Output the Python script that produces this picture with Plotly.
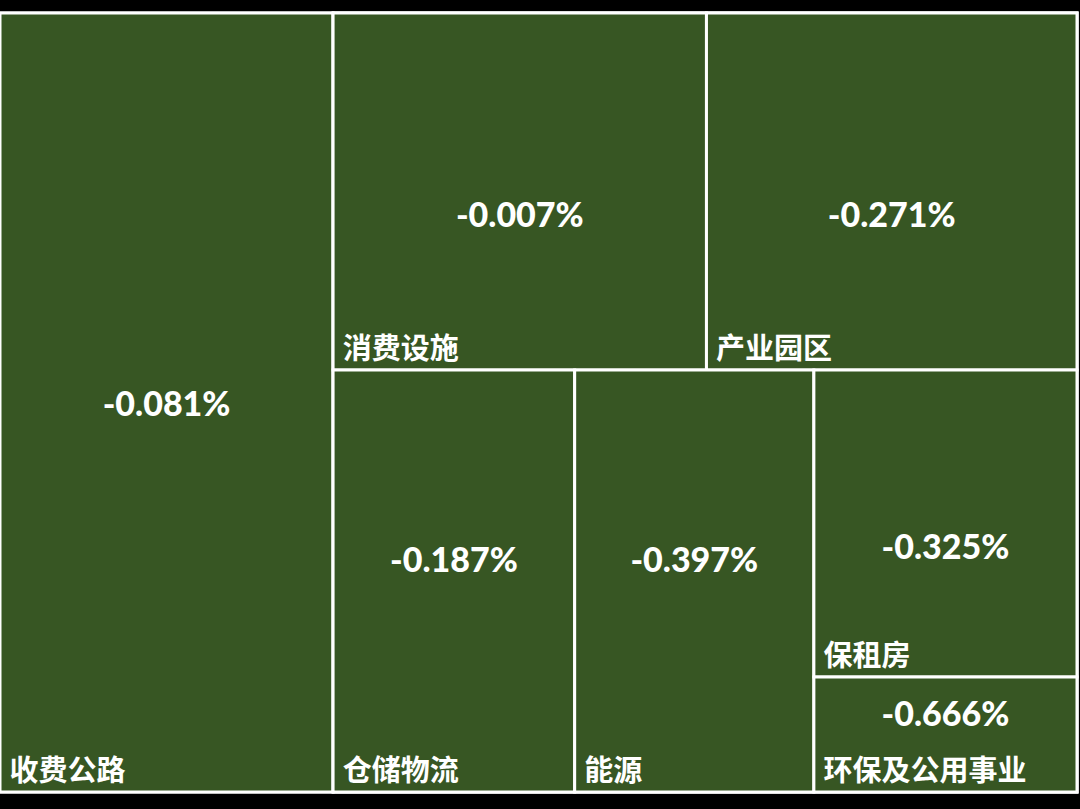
import plotly.graph_objects as go

# Data
categories = ["收费公路", "消费设施", "产业园区", "仓储物流", "能源", "保租房", "环保及公用事业"]
sizes = [257, 132, 131, 101, 100, 80, 30]          # tile weights read from the areas
changes = [-0.081, -0.007, -0.271, -0.187, -0.397, -0.325, -0.666]  # percent change

ROOT = "全部"
GROUP = "其他板块"

# Hierarchy: first sector alone on the left, the rest grouped (keeps the reference layout)
labels = [ROOT, categories[0], GROUP] + categories[1:]
parents = ["", ROOT, ROOT] + [GROUP] * (len(categories) - 1)
group_total = sum(sizes[1:])
values = [sum(sizes), sizes[0], group_total] + sizes[1:]
cdata = [0, changes[0], 0] + changes[1:]

GREEN = "#375623"

# label templates (name at bottom-left, value near the middle)
NAME = " %{label}"
V = "%{customdata:.3f}%"
V_LOW = " <br>" + V       # sits a little below the middle
V_HIGH = V + "<br> "      # sits a little above the middle
name_tmpl = ["", NAME, ""] + [NAME] * (len(categories) - 1)
val_tmpl = ["", V, "", V_LOW, V_LOW, V_HIGH, V_HIGH, V_LOW, V_HIGH]

common = dict(
    labels=labels,
    parents=parents,
    values=values,
    customdata=cdata,
    branchvalues="total",
    sort=False,
    tiling=dict(packing="squarify", squarifyratio=1, pad=0),
    pathbar=dict(visible=False),
    domain=dict(x=[0, 1], y=[0, 1]),
    hoverinfo="skip",
)

trace_names = go.Treemap(
    **common,
    texttemplate=name_tmpl,
    textposition="bottom left",
    marker=dict(colors=[GREEN] * len(labels),
                line=dict(color="white", width=3),
                pad=dict(t=0, l=0, r=0, b=0)),
    insidetextfont=dict(family="Noto Sans CJK SC", size=29, color="white", weight="bold"),
)

trace_values = go.Treemap(
    **common,
    texttemplate=val_tmpl,
    textposition="middle center",
    marker=dict(colors=["rgba(0,0,0,0)"] * len(labels),
                line=dict(color="rgba(0,0,0,0)", width=0),
                pad=dict(t=0, l=0, r=0, b=0)),
    insidetextfont=dict(family="Lato", size=34, color="white", weight=900),
)

fig = go.Figure([trace_names, trace_values])
fig.update_layout(
    width=1080,
    height=809,
    margin=dict(l=0, r=3, t=13, b=17),
    paper_bgcolor="black",
    plot_bgcolor="black",
    showlegend=False,
)
fig.write_html(
    "out.html",
    config={"displayModeBar": False},
    post_script="document.body.style.margin='0';document.body.style.background='black';",
)
